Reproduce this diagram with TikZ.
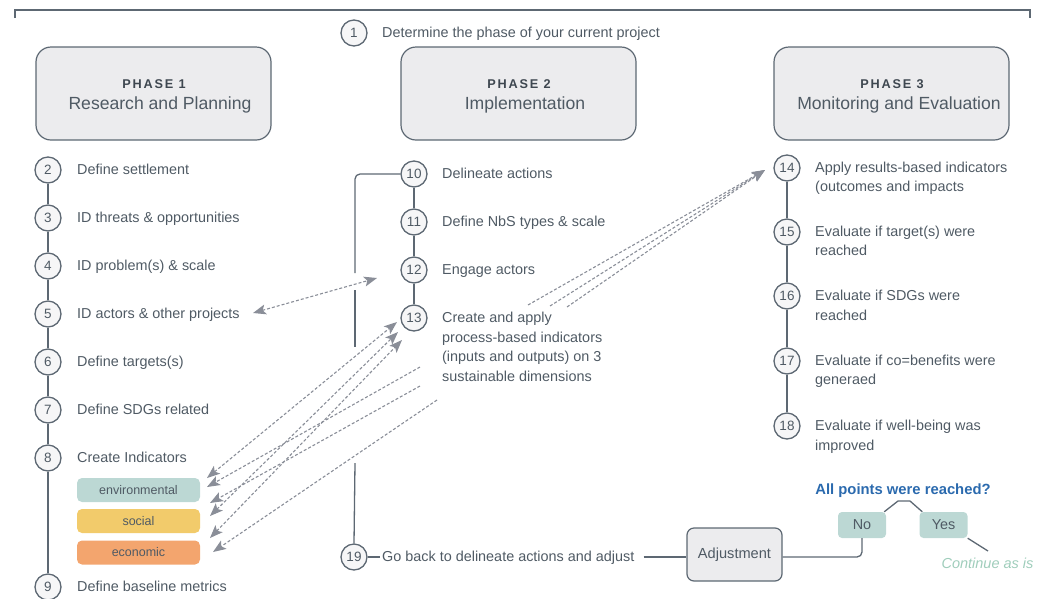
\documentclass[tikz,border=0pt]{standalone}
\usepackage{fontspec}
\setmainfont{Liberation Sans}
\newfontfamily\phasefont[LetterSpace=14]{Liberation Sans}
\usetikzlibrary{arrows.meta}
\definecolor{linec}{HTML}{5D6873}
\definecolor{txtc}{HTML}{4F5A64}
\definecolor{darkc}{HTML}{3E4750}
\definecolor{boxfill}{HTML}{ECECEE}
\definecolor{circfill}{HTML}{F6F6F7}
\definecolor{arrc}{HTML}{8A8E98}
\definecolor{envc}{HTML}{BCD8D4}
\definecolor{socc}{HTML}{F2CB6B}
\definecolor{ecoc}{HTML}{F3A56E}
\definecolor{bluec}{HTML}{2B6AAE}
\definecolor{contc}{HTML}{9FCDBB}
\begin{document}
\begin{tikzpicture}[x=1pt,y=-1pt,
  num/.style={circle,draw=linec,line width=1.3pt,fill=circfill,minimum size=26pt,inner sep=0pt,font=\fontsize{13.5}{13.5}\selectfont,text=txtc},
  txt/.style={anchor=west,inner sep=0pt,text height=10pt,text depth=1pt,font=\fontsize{14.4}{14.4}\selectfont,text=txtc},
  phasebox/.style={draw=linec,line width=1.2pt,fill=boxfill,rounded corners=15pt,minimum width=235pt,minimum height=93pt},
  phtitle/.style={inner sep=0pt,font=\phasefont\bfseries\fontsize{12.7}{12.7}\selectfont,text=darkc},
  phsub/.style={inner sep=0pt,font=\fontsize{17.6}{17.6}\selectfont,text=txtc},
  indbox/.style={rounded corners=5pt,minimum width=123pt,minimum height=24pt,inner sep=0pt,font=\fontsize{12.5}{12.5}\selectfont,text=txtc},
  conn/.style={draw=linec,line width=1.3pt},
  dasharr/.style={draw=arrc,line width=1.1pt,dash pattern=on 3pt off 2pt,-{Stealth[length=13pt,width=10pt,inset=3pt]}},
  dasharr2/.style={draw=arrc,line width=1.1pt,dash pattern=on 3pt off 2pt,{Stealth[length=13pt,width=10pt,inset=3pt]}-{Stealth[length=13pt,width=10pt,inset=3pt]}},
  ansbox/.style={fill=envc,rounded corners=4pt,minimum width=48pt,minimum height=26pt,inner sep=0pt,font=\fontsize{14.4}{14.4}\selectfont,text=txtc}
]
\useasboundingbox (0,0) rectangle (1045,598);

% top bracket
\draw[conn] (15,18) -- (15,10) -- (1030,10) -- (1030,18);

% step 1
\node[num] (n1) at (354,33) {1};
\node[txt] (t1) at (382,33) {Determine the phase of your current project};

% phase boxes
\node[phasebox] (p1) at (153.5,93.5) {};
\node[phtitle] (p1a) at (154,84) {PHASE 1};
\node[phsub] (p1b) at (160,105) {Research and Planning};
\node[phasebox] (p2) at (518.5,93.5) {};
\node[phtitle] (p2a) at (519,84) {PHASE 2};
\node[phsub] (p2b) at (525,105) {Implementation};
\node[phasebox] (p3) at (891.5,93.5) {};
\node[phtitle] (p3a) at (892,84) {PHASE 3};
\node[phsub] (p3b) at (899,105) {Monitoring and Evaluation};

% phase 1 list
\node[num] (n2) at (48,170) {2};
\node[num] (n3) at (48,218) {3};
\node[num] (n4) at (48,266) {4};
\node[num] (n5) at (48,314) {5};
\node[num] (n6) at (48,362) {6};
\node[num] (n7) at (48,410) {7};
\node[num] (n8) at (48,458) {8};
\node[num] (n9) at (48,587) {9};
\node[txt] (t2) at (77,170) {Define settlement};
\node[txt] (t3) at (77,218) {ID threats \& opportunities};
\node[txt] (t4) at (77,266) {ID problem(s) \& scale};
\node[txt] (t5) at (77,314) {ID actors \& other projects};
\node[txt] (t6) at (77,362) {Define targets(s)};
\node[txt] (t7) at (77,410) {Define SDGs related};
\node[txt] (t8) at (77,458) {Create Indicators};
\node[txt] (t9) at (77,587) {Define baseline metrics};
\foreach \a/\b in {n2/n3,n3/n4,n4/n5,n5/n6,n6/n7,n7/n8,n8/n9} \draw[conn] (\a) -- (\b);

\node[indbox,fill=envc] (env) at (138.5,490) {environmental};
\node[indbox,fill=socc] (soc) at (138.5,521) {social};
\node[indbox,fill=ecoc] (eco) at (138.5,552.5) {economic};

% phase 2 list
\node[num] (n10) at (414,174) {10};
\node[num] (n11) at (414,222) {11};
\node[num] (n12) at (414,270) {12};
\node[num] (n13) at (414,318) {13};
\node[txt] (t10) at (442,174) {Delineate actions};
\node[txt] (t11) at (442,222) {Define NbS types \& scale};
\node[txt] (t12) at (442,270) {Engage actors};
\node[txt] (t13) at (442,318) {Create and apply};
\node[txt] (t13b) at (442,337.5) {process-based indicators};
\node[txt] (t13c) at (442,357) {(inputs and outputs) on 3};
\node[txt] (t13d) at (442,376.5) {sustainable dimensions};
\foreach \a/\b in {n10/n11,n11/n12,n12/n13} \draw[conn] (\a) -- (\b);

% phase 3 list
\node[num] (n14) at (787,168) {14};
\node[num] (n15) at (787,232) {15};
\node[num] (n16) at (787,296) {16};
\node[num] (n17) at (787,361) {17};
\node[num] (n18) at (787,426) {18};
\node[txt] (t14) at (815,168) {Apply results-based indicators};
\node[txt] (t14b) at (815,187) {(outcomes and impacts};
\node[txt] (t15) at (815,232) {Evaluate if target(s) were};
\node[txt] (t15b) at (815,251) {reached};
\node[txt] (t16) at (815,296) {Evaluate if SDGs were};
\node[txt] (t16b) at (815,315.5) {reached};
\node[txt] (t17) at (815,361) {Evaluate if co=benefits were};
\node[txt] (t17b) at (815,380) {generaed};
\node[txt] (t18) at (815,426) {Evaluate if well-being was};
\node[txt] (t18b) at (815,445.5) {improved};
\foreach \a/\b in {n14/n15,n15/n16,n16/n17,n17/n18} \draw[conn] (\a) -- (\b);

% step 19 and loop
\node[num] (n19) at (354,557) {19};
\node[txt] (t19) at (382,557) {Go back to delineate actions and adjust};
\draw[conn,rounded corners=5pt] (n10.west) -| (355,273);
\draw[conn] (355,290) -- (355,347);
\draw[conn] (355,463) -- (n19.north);
\draw[conn] (n19.east) -- ([xshift=-2pt]t19.west);
\node[draw=linec,line width=1.2pt,fill=boxfill,rounded corners=7pt,minimum width=95pt,minimum height=53pt,inner sep=0pt,font=\fontsize{14.6}{14.6}\selectfont,text=txtc] (adj) at (734.5,554.5) {Adjustment};
\draw[conn] ([xshift=9pt]t19.east) -- (adj.west |- t19.east);

% decision
\node[inner sep=0pt,font=\bfseries\fontsize{14.8}{14.8}\selectfont,text=bluec] (q) at (903,491) {All points were reached?};
\node[ansbox] (no) at (862,525) {No};
\node[ansbox] (yes) at (943.5,525) {Yes};
\draw[conn,rounded corners=5pt] (adj.east |- t19.east) -| (no.south);
\draw[conn] ([xshift=-2pt]no.north east) -- (898,501) -- (910,501) -- ([xshift=3pt]yes.north west);
\coordinate (cy) at (988,551);
\draw[conn] (yes.south east) -- (cy);
\node[inner sep=0pt,font=\itshape\fontsize{14.5}{14.5}\selectfont,text=contc] (cont) at (987.5,563) {Continue as is};

% dashed arrows
\coordinate (a5) at (253,313);
\coordinate (a12) at (377,278);
\draw[dasharr2] (a5) -- (a12);

\coordinate (h14) at (765,170);
\coordinate (s1) at (528,305);
\coordinate (s2) at (550,306);
\coordinate (s3) at (567,307);
\draw[dasharr] (s1) -- (h14);
\draw[dasharr] (s2) -- (h14);
\draw[dasharr] (s3) -- (h14);

\coordinate (h13a) at (397,322);
\coordinate (h13b) at (398,332);
\coordinate (h13c) at (402,340);
\coordinate (ea) at (207,478);
\coordinate (eb) at (207,487);
\coordinate (sa) at (210,503);
\coordinate (sb) at (210,516);
\coordinate (ca) at (210,538);
\coordinate (cb) at (213,552);
\draw[dasharr2] (ea) -- (h13a);
\draw[dasharr2] (sb) -- (h13b);
\draw[dasharr2] (ca) -- (h13c);
\coordinate (d1) at (420,367);
\coordinate (d2) at (420,386);
\coordinate (d3) at (437,400);
\draw[dasharr] (d1) -- (eb);
\draw[dasharr] (d2) -- (sa);
\draw[dasharr] (d3) -- (cb);
\end{tikzpicture}
\end{document}
